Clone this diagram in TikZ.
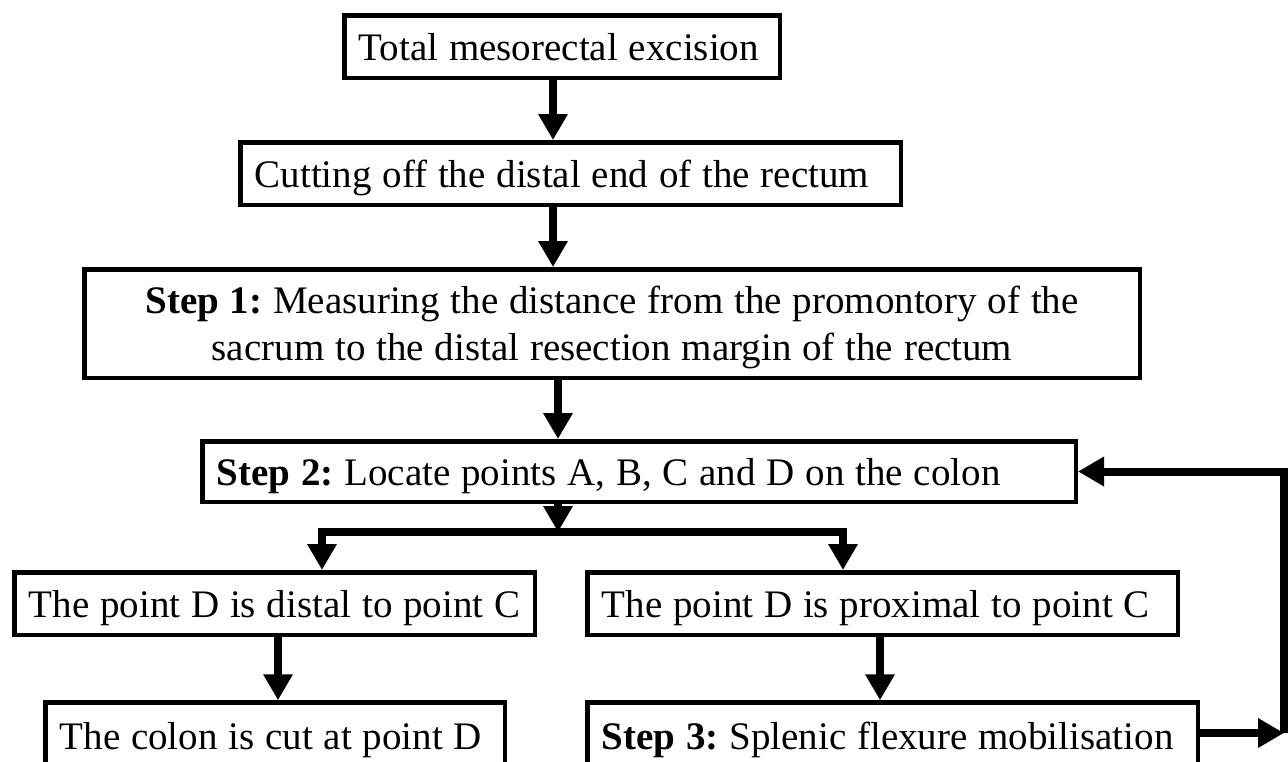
\documentclass[tikz,border=0pt]{standalone}
\usepackage{fontspec}
\setmainfont{Liberation Serif}
\usetikzlibrary{arrows.meta}
\frenchspacing
\newcommand{\tight}{\spaceskip=10.8pt\relax\xspaceskip=10.8pt\relax}
\begin{document}
\begin{tikzpicture}[x=1pt,y=-1pt,
  box/.style={draw, line width=4.5pt, inner xsep=14.5pt, inner ysep=0pt,
    align=left, font=\fontsize{39}{47}\selectfont, text height=27pt, text depth=0pt},
  arr/.style={line width=8pt, -{Triangle[length=26pt,width=28pt]}},
  conn/.style={line width=8pt}]
\path[use as bounding box] (0,0) rectangle (1288,761);
\clip (0,0) rectangle (1288,761);
\fill[white] (0,0) rectangle (1288,761);

\node[box, minimum width=435.5pt, minimum height=62.5pt, text width=406.5pt] (b1) at (562,46.5)
  {\tight\mbox{Total mesorectal excision}};
\node[box, minimum width=660.5pt, minimum height=62.5pt, text width=631.5pt] (b2) at (570.5,173.5)
  {\tight\mbox{Cutting off the distal end of the rectum}};
\node[box, align=center, minimum width=1055.5pt, minimum height=108.5pt, text width=1026.5pt,
  text height=27pt, text depth=47pt] (b3) at (612,323.5)
  {\tight\textbf{Step 1:} Measuring the distance from the promontory of the\\
   sacrum to the distal resection margin of the rectum};
\node[box, minimum width=873.5pt, minimum height=60.5pt, text width=844.5pt] (b4) at (639,471.5)
  {\tight\mbox{\textbf{Step 2:} Locate points A, B, C and D on the colon}};
\node[box, minimum width=520.5pt, minimum height=62.5pt, text width=491.5pt] (b5) at (274.5,603.5)
  {\tight\mbox{The point D is distal to point C}};
\node[box, minimum width=590.5pt, minimum height=62.5pt, text width=561.5pt] (b6) at (882.5,603.5)
  {\tight\mbox{The point D is proximal to point C}};
\node[box, minimum width=459.5pt, minimum height=67pt, text width=430.5pt] (b7) at (275,736)
  {\tight\mbox{The colon is cut at point D}};
\node[box, minimum width=610.5pt, minimum height=67pt, text width=581.5pt] (b8) at (892.5,736)
  {\tight\mbox{\textbf{Step 3:} Splenic flexure mobilisation}};

\coordinate (a1) at (553,0);
\coordinate (a3) at (558,0);
\coordinate (jc) at (558,532);
\coordinate (jl) at (322,532);
\coordinate (jr) at (843,532);
\coordinate (a5) at (278,0);
\coordinate (a6) at (880,0);
\coordinate (r1) at (1284,733);

\draw[arr] (a1 |- b1.south) -- (a1 |- b2.north);
\draw[arr] (a1 |- b2.south) -- (a1 |- b3.north);
\draw[arr] (a3 |- b3.south) -- (a3 |- b4.north);
\draw[arr] (jc |- b4.south) -- (jc);
\draw[arr] (jc) -| (jl |- b5.north);
\draw[arr] (jc) -| (jr |- b6.north);
\draw[arr] (a5 |- b5.south) -- (a5 |- b7.north);
\draw[arr] (a6 |- b6.south) -- (a6 |- b8.north);
\draw[arr] (b8.east |- r1) -- (r1);
\draw[arr] (r1) |- (b4.east);
\end{tikzpicture}
\end{document}
